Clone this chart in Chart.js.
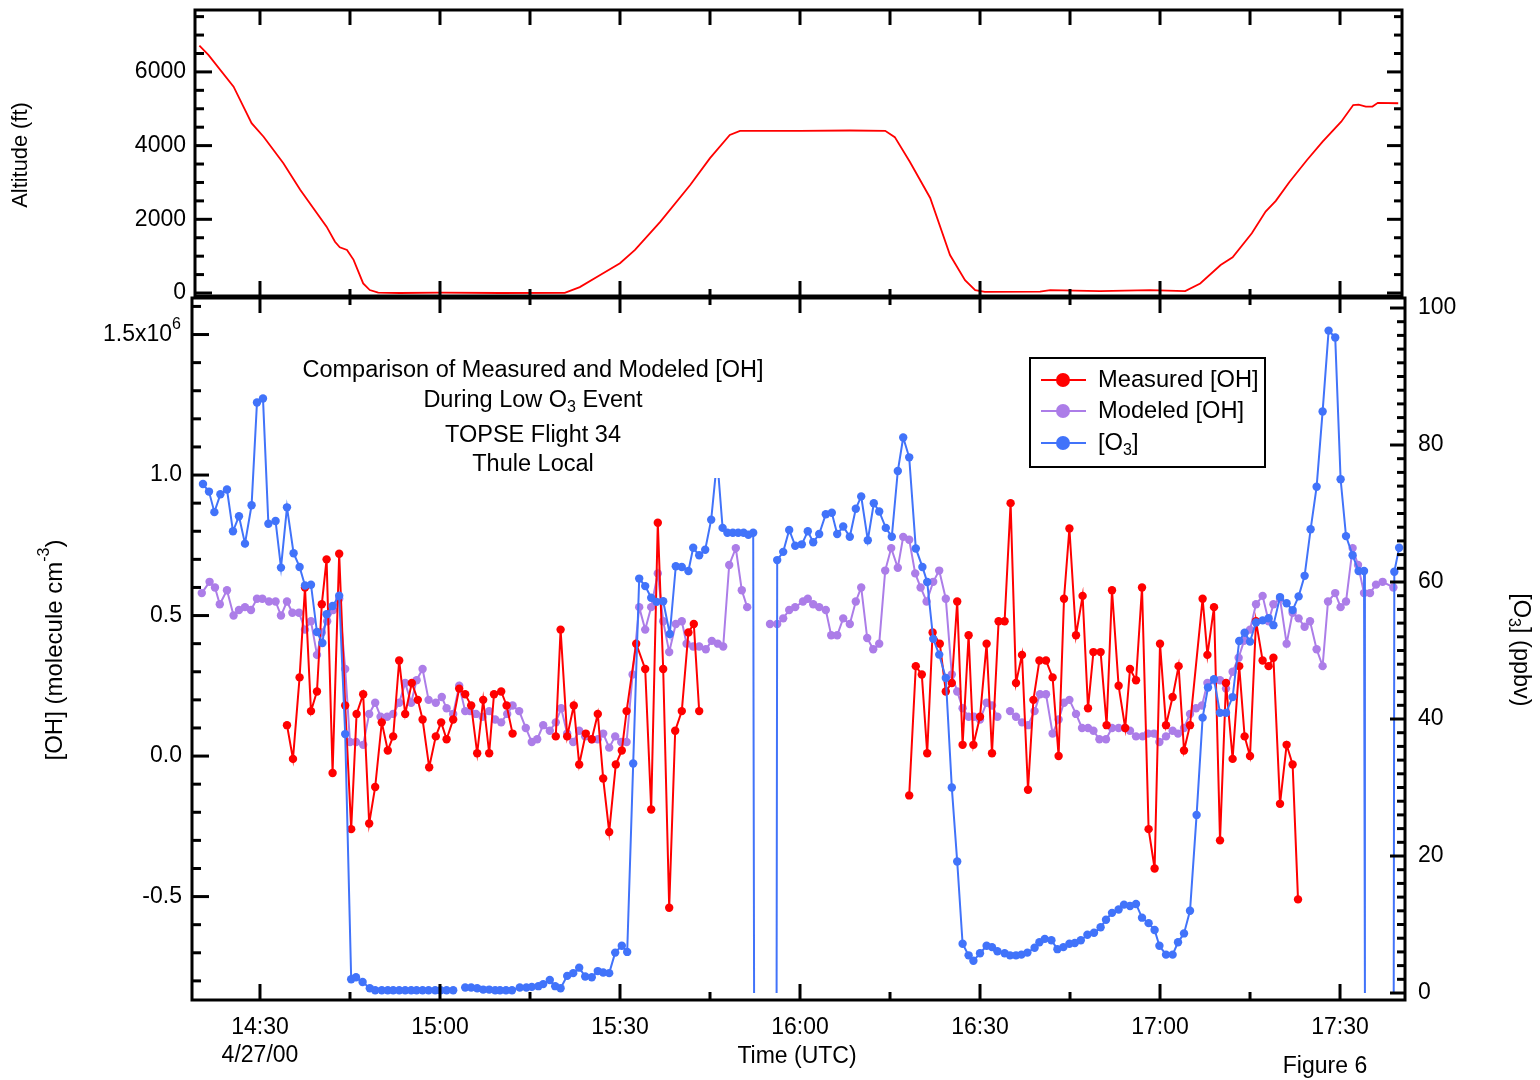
<!DOCTYPE html>
<html>
<head>
<meta charset="utf-8">
<title>TOPSE Flight 34 - measured and modeled OH</title>
<script src="https://cdn.jsdelivr.net/npm/chart.js@4.4.1/dist/chart.umd.min.js"></script>
<style>
  html, body { margin: 0; padding: 0; background: #fff; }
  #wrap { position: relative; width: 1540px; height: 1080px; }
  #wrap canvas { position: absolute; left: 0; top: 0; }
</style>
</head>
<body>
<div id="wrap">
  <canvas id="ohChart" width="1540" height="1080"></canvas>
  <canvas id="altChart" width="1540" height="300"></canvas>
</div>
<script>
// times are minutes after 00:00 UTC, 4/27/00
const timeLabels = [870, 900, 930, 960, 990, 1020, 1050];

// aircraft altitude (ft)
const altTime = [859.9, 861.4, 865.6, 868.6, 870.6, 873.9, 876.7, 881.1, 882.5, 883.3,
  884.5, 885.6, 887.2, 888.3, 889.7, 893.3, 900.0, 910.0, 920.8, 923.3,
  926.7, 930.0, 932.5, 936.7, 941.7, 945.0, 948.3, 950.0, 960.0, 968.3,
  974.2, 975.8, 978.3, 981.7, 985.0, 987.5, 989.2, 990.8, 1000.0, 1001.7,
  1010.0, 1018.3, 1024.2, 1026.7, 1030.1, 1032.1, 1035.3, 1037.6, 1039.3, 1041.6,
  1044.5, 1047.1, 1050.2, 1052.2, 1053.1, 1054.3, 1055.4, 1056.3, 1059.7];
const altFt = [6710, 6460, 5600, 4610, 4240, 3520, 2800, 1800, 1390, 1240,
  1170, 900, 260, 80, 10, 0, 10, 0, 5, 160,
  490, 810, 1170, 1930, 2930, 3660, 4290, 4400, 4400, 4410,
  4400, 4230, 3560, 2580, 1030, 350, 80, 30, 40, 80,
  50, 80, 50, 260, 760, 970, 1620, 2210, 2500, 3020,
  3610, 4110, 4650, 5100, 5110, 5060, 5060, 5160, 5150];

// measured [OH], 10^6 molecule cm-3 (null = no data)
const ohMeasTime = [874.5, 875.5, 876.6, 877.5, 878.5, 879.5, 880.3, 881.1, 882.1, 883.2,
  884.2, 885.2, 886.1, 887.2, 888.2, 889.2, 890.3, 891.3, 892.2, 893.2,
  894.2, 895.3, 896.3, 897.1, 898.2, 899.3, 900.2, 901.1, 902.2, 903.2,
  904.2, 905.2, 906.2, 907.2, 908.2, 909.0, 910.2, 911.1, 912.1, 916.0,
  919.3, 920.1, 921.2, 922.3, 923.2, 924.3, 925.3, 926.3, 927.2, 928.2,
  929.3, 930.3, 931.1, 932.7, 934.2, 935.2, 936.3, 937.2, 938.2, 939.2,
  940.3, 941.4, 942.3, 943.2, 960.0,
  978.2, 979.3, 980.3, 981.2, 982.1, 983.3, 984.3, 985.3, 986.2, 987.1,
  988.1, 988.9, 990.0, 991.1, 992.0, 993.1, 994.1, 995.1, 996.0, 997.0,
  998.0, 998.9, 999.9, 1001.0, 1002.1, 1003.1, 1004.0, 1004.9, 1006.0, 1007.1,
  1008.0, 1008.9, 1010.1, 1011.1, 1012.0, 1013.1, 1014.2, 1015.0, 1016.0, 1017.0,
  1018.1, 1019.1, 1020.0, 1021.0, 1022.1, 1023.1, 1024.0, 1025.0, 1027.1, 1027.9,
  1029.0, 1030.0, 1031.0, 1032.1, 1033.2, 1034.1, 1035.0, 1036.0, 1037.1, 1038.1,
  1038.9, 1040.0, 1041.1, 1042.1, 1043.0];
const ohMeas = [0.11, -0.01, 0.28, 0.60, 0.16, 0.23, 0.54, 0.70, -0.06, 0.72,
  0.18, -0.26, 0.15, 0.22, -0.24, -0.11, 0.12, 0.02, 0.07, 0.34,
  0.15, 0.26, 0.20, 0.13, -0.04, 0.07, 0.12, 0.06, 0.13, 0.24,
  0.22, 0.18, 0.01, 0.20, 0.01, 0.22, 0.23, 0.18, 0.08, null,
  0.07, 0.45, 0.07, 0.18, -0.03, 0.08, 0.06, 0.15, -0.08, -0.27,
  -0.03, 0.02, 0.16, 0.40, 0.31, -0.19, 0.83, 0.31, -0.54, 0.09,
  0.16, 0.44, 0.47, 0.16, null,
  -0.14, 0.32, 0.29, 0.01, 0.44, 0.40, 0.23, 0.26, 0.55, 0.04,
  0.43, 0.04, 0.14, 0.40, 0.01, 0.48, 0.48, 0.90, 0.26, 0.36,
  -0.12, 0.20, 0.34, 0.34, 0.28, 0.00, 0.56, 0.81, 0.43, 0.57,
  0.17, 0.37, 0.37, 0.11, 0.59, 0.25, 0.10, 0.31, 0.27, 0.60,
  -0.26, -0.40, 0.40, 0.11, 0.21, 0.32, 0.02, 0.11, 0.56, 0.36,
  0.53, -0.30, 0.26, -0.01, 0.32, 0.07, 0.00, 0.48, 0.34, 0.32,
  0.35, -0.17, 0.04, -0.03, -0.51];

// modeled [OH], 10^6 molecule cm-3
const ohModTime = [860.3, 861.6, 862.5, 863.3, 864.5, 865.6, 866.5, 867.5, 868.5, 869.5,
  870.4, 871.5, 872.6, 873.5, 874.5, 875.4, 876.5, 877.5, 878.5, 879.5,
  880.3, 881.2, 882.2, 883.2, 884.2, 885.0, 886.0, 887.2, 888.2, 889.2,
  890.1, 891.2, 892.2, 893.2, 894.2, 895.2, 896.1, 897.1, 898.1, 899.3,
  900.3, 901.1, 902.2, 903.2, 904.2, 905.0, 906.0, 907.1, 908.2, 909.2,
  910.2, 911.2, 912.1, 913.2, 914.3, 915.3, 916.2, 917.2, 918.3, 919.3,
  920.2, 921.2, 922.2, 923.2, 924.2, 925.3, 926.3, 927.2, 928.2, 929.2,
  930.2, 931.1, 932.1, 933.2, 934.2, 935.2, 936.3, 937.2, 938.2, 939.3,
  940.3, 941.1, 942.2, 943.2, 944.3, 945.3, 946.3, 947.2, 948.2, 949.3,
  950.3, 951.2, 953.0, 955.0, 956.2, 957.2, 958.2, 959.2, 960.5, 961.3,
  962.2, 963.2, 964.3, 965.2, 966.2, 967.2, 968.3, 969.3, 970.2, 971.2,
  972.2, 973.2, 974.2, 975.2, 976.3, 977.2, 978.2, 979.2, 980.1, 981.1,
  982.2, 983.2, 984.3, 985.3, 986.2, 987.1, 988.1, 989.0, 990.0, 991.1,
  992.0, 992.9, 994.0, 995.0, 996.0, 997.0, 998.0, 999.1, 1000.0, 1001.0,
  1002.1, 1003.1, 1004.0, 1004.9, 1006.0, 1007.0, 1008.0, 1008.9, 1009.9, 1011.0,
  1012.0, 1013.1, 1014.1, 1015.0, 1016.0, 1017.1, 1018.0, 1019.0, 1019.9, 1021.0,
  1022.1, 1023.0, 1024.0, 1025.0, 1026.0, 1027.0, 1027.9, 1029.0, 1030.0, 1031.0,
  1032.1, 1033.1, 1034.0, 1035.0, 1036.0, 1037.1, 1038.1, 1038.9, 1040.0, 1041.1,
  1042.1, 1043.1, 1044.1, 1045.0, 1046.1, 1047.1, 1048.0, 1049.2, 1050.1, 1051.0,
  1052.1, 1053.0, 1054.0, 1055.0, 1056.0, 1057.1, 1058.9];
const ohMod = [0.58, 0.62, 0.60, 0.54, 0.59, 0.50, 0.52, 0.53, 0.52, 0.56,
  0.56, 0.55, 0.55, 0.50, 0.55, 0.51, 0.51, 0.45, 0.48, 0.36,
  0.44, 0.48, 0.52, 0.56, 0.31, 0.05, 0.05, 0.04, 0.15, 0.19,
  0.14, 0.14, 0.15, 0.19, 0.26, 0.19, 0.27, 0.31, 0.20, 0.19,
  0.21, 0.17, 0.15, 0.25, 0.16, 0.16, 0.15, 0.14, 0.16, 0.13,
  0.12, 0.15, 0.18, 0.16, 0.10, 0.05, 0.06, 0.11, 0.09, 0.12,
  0.17, 0.08, 0.05, 0.09, 0.07, 0.06, 0.06, 0.08, 0.03, 0.07,
  0.05, 0.05, 0.29, 0.53, 0.45, 0.53, 0.65, 0.48, 0.37, 0.47,
  0.48, 0.40, 0.39, 0.39, 0.38, 0.41, 0.40, 0.39, 0.68, 0.74,
  0.59, 0.53, null, 0.47, 0.47, 0.49, 0.52, 0.53, 0.55, 0.56,
  0.54, 0.53, 0.52, 0.43, 0.43, 0.49, 0.47, 0.55, 0.60, 0.42,
  0.38, 0.40, 0.66, 0.74, 0.67, 0.78, 0.77, 0.65, 0.60, 0.55,
  0.62, 0.66, 0.56, 0.29, 0.23, 0.17, 0.14, 0.14, 0.13, 0.19,
  0.18, 0.14, null, 0.16, 0.14, 0.12, 0.11, 0.16, 0.22, 0.22,
  0.08, 0.13, 0.19, 0.20, 0.15, 0.10, 0.10, 0.09, 0.06, 0.06,
  0.10, 0.10, 0.10, 0.09, 0.07, 0.07, 0.08, 0.08, 0.05, 0.07,
  0.09, 0.08, 0.10, 0.15, 0.17, 0.18, 0.26, 0.27, 0.27, 0.24,
  0.30, 0.35, 0.41, 0.45, 0.54, 0.57, 0.48, 0.54, 0.56, 0.40,
  0.51, 0.49, 0.46, 0.48, 0.38, 0.32, 0.55, 0.58, 0.53, 0.55,
  0.74, 0.68, 0.58, 0.58, 0.61, 0.62, 0.60];

// [O3], ppbv (0 = instrument drop-out, drawn without a marker)
const o3Time = [860.5, 861.5, 862.4, 863.4, 864.5, 865.5, 866.5, 867.5, 868.6, 869.5,
  870.5, 871.4, 872.6, 873.5, 874.5, 875.6, 876.6, 877.5, 878.5, 879.5,
  880.4, 881.1, 882.1, 883.2, 884.2, 885.2, 886.0, 887.1, 888.3, 889.2,
  890.3, 891.3, 892.2, 893.2, 894.2, 895.2, 896.1, 897.1, 898.1, 899.2,
  900.1, 901.1, 902.2, 903.0, 904.2, 905.2, 906.2, 907.2, 908.2, 909.2,
  910.0, 911.0, 912.0, 913.3, 914.4, 915.3, 916.4, 917.2, 918.3, 919.2,
  920.1, 921.2, 922.2, 923.2, 924.2, 925.3, 926.3, 927.2, 928.2, 929.2,
  930.3, 931.2, 932.2, 933.2, 934.2, 935.2, 936.1, 937.2, 938.3, 939.3,
  940.3, 941.4, 942.2, 943.2, 944.2, 945.2, 946.2, 947.1, 947.9, 948.8,
  949.7, 950.6, 951.4, 952.2, 952.35, 954.0, 956.1, 956.2, 957.2, 958.2,
  959.2, 960.3, 961.3, 962.2, 963.2, 964.3, 965.3, 966.2, 967.2, 968.3,
  969.3, 970.2, 971.3, 972.3, 973.2, 974.3, 975.3, 976.3, 977.2, 978.2,
  979.3, 980.4, 981.2, 982.2, 983.2, 984.3, 985.3, 986.2, 987.1, 988.1,
  988.9, 990.0, 991.1, 992.0, 992.9, 994.1, 995.0, 996.0, 996.9, 997.9,
  999.1, 999.9, 1000.8, 1001.9, 1002.9, 1003.9, 1004.9, 1005.8, 1006.8, 1007.9,
  1009.0, 1010.1, 1011.0, 1012.0, 1013.1, 1014.0, 1015.0, 1016.0, 1017.0, 1018.1,
  1019.1, 1019.9, 1021.0, 1022.1, 1023.0, 1024.0, 1025.0, 1026.1, 1027.1, 1028.0,
  1029.0, 1030.0, 1031.0, 1032.1, 1033.2, 1034.1, 1035.0, 1036.0, 1037.1, 1038.1,
  1038.9, 1040.0, 1041.1, 1042.1, 1043.1, 1044.1, 1045.1, 1046.1, 1047.1, 1048.1,
  1049.2, 1050.1, 1051.0, 1052.1, 1053.1, 1054.0, 1054.15, 1056.0, 1058.95, 1059.05,
  1059.85];
const o3Ppbv = [74.3, 73.2, 70.2, 72.8, 73.5, 67.4, 69.6, 65.6, 71.2, 86.2,
  86.8, 68.5, 68.9, 62.1, 70.9, 64.2, 62.2, 59.5, 59.6, 52.7,
  51.1, 55.3, 56.5, 58.0, 37.8, 2.0, 2.3, 1.6, 0.7, 0.4,
  0.4, 0.4, 0.4, 0.4, 0.4, 0.4, 0.4, 0.4, 0.4, 0.4,
  0.4, 0.4, 0.4, null, 0.8, 0.8, 0.7, 0.5, 0.5, 0.4,
  0.4, 0.4, 0.4, 0.8, 0.8, 0.9, 1.0, 1.3, 1.9, 1.0,
  0.7, 2.5, 2.9, 3.7, 2.4, 2.3, 3.2, 3.0, 2.9, 5.9,
  6.9, 6.0, 33.5, 60.5, 59.4, 57.7, 57.1, 57.2, 52.4, 62.3,
  62.2, 61.6, 65.0, 63.9, 64.7, 69.1, 78.0, 67.9, 67.2, 67.2,
  67.2, 67.2, 66.9, 67.2, 0, null, 0, 63.2, 64.4, 67.6,
  65.3, 65.5, 67.4, 65.8, 67.0, 69.9, 70.1, 67.0, 68.1, 66.6,
  70.7, 72.5, 66.1, 71.5, 70.3, 67.9, 66.6, 76.2, 81.1, 78.2,
  64.9, 62.2, 60.0, 51.7, 49.4, 46.0, 30.0, 19.2, 7.2, 5.5,
  4.7, 5.8, 6.9, 6.7, 6.1, 5.8, 5.5, 5.5, 5.6, 5.9,
  6.6, 7.4, 7.9, 7.7, 6.4, 6.7, 7.2, 7.3, 7.7, 8.5,
  8.8, 9.6, 10.7, 11.7, 12.2, 12.9, 12.7, 13.0, 11.0, 10.2,
  9.2, 6.9, 5.6, 5.6, 7.4, 8.7, 12.0, 26.0, 40.2, 44.6,
  45.8, 40.9, 40.9, 43.2, 51.4, 52.6, 51.3, 54.1, 54.4, 54.7,
  53.7, 57.8, 56.9, 55.9, 57.9, 60.9, 67.7, 73.9, 84.9, 96.7,
  95.7, 75.0, 66.7, 63.9, 61.6, 61.6, 0, null, 0, 61.5,
  65.0];

const RED = '#ff0000';
const PURPLE = '#ac7de8';
const BLUE = '#4173fa';
const SANS = '"Liberation Sans", Arial, Helvetica, sans-serif';
const MARKER = 4.2;

Chart.defaults.font.family = SANS;
Chart.defaults.font.size = 23;
Chart.defaults.color = '#000';

function toPoints(xs, ys) {
  return xs.map((x, i) => ({ x: x, y: ys[i] }));
}

function clockLabel(min) {
  const h = Math.floor(min / 60);
  const m = Math.round(min - h * 60);
  return h + ':' + String(m).padStart(2, '0');
}

// text with sub/superscript pieces: parts = [[text, ''|'sub'|'sup'], ...]
function fontFor(size, kind) {
  return (kind ? Math.round(size * 0.68) : size) + 'px ' + SANS;
}

function drawRich(ctx, parts, x, y, size, align, angle) {
  ctx.save();
  ctx.translate(x, y);
  if (angle) ctx.rotate(angle);
  ctx.fillStyle = '#000';
  ctx.textBaseline = 'middle';
  ctx.textAlign = 'left';
  let w = 0;
  parts.forEach(([t, k]) => { ctx.font = fontFor(size, k); w += ctx.measureText(t).width; });
  let cx = align === 'center' ? -w / 2 : align === 'right' ? -w : 0;
  parts.forEach(([t, k]) => {
    ctx.font = fontFor(size, k);
    const dy = k === 'sub' ? size * 0.3 : k === 'sup' ? -size * 0.42 : 0;
    ctx.fillText(t, cx, dy);
    cx += ctx.measureText(t).width;
  });
  ctx.restore();
}

// closed frame around the plot area with inward major/minor ticks
function frameWithTicks(marks) {
  return {
    id: 'frameWithTicks',
    afterDraw(chart) {
      const { ctx, chartArea: a } = chart;
      ctx.save();
      ctx.strokeStyle = '#000';
      ctx.lineWidth = 3;
      marks.forEach(m => {
        const sc = chart.scales[m.scale];
        const lo = Math.ceil(sc.min / m.step - 1e-6);
        const hi = Math.floor(sc.max / m.step + 1e-6);
        for (let i = lo; i <= hi; i++) {
          const v = i * m.step;
          const r = v / m.major;
          const len = Math.abs(r - Math.round(r)) < 1e-6 ? m.long : m.short;
          const p = sc.getPixelForValue(v);
          ctx.beginPath();
          if (m.side === 'top') { ctx.moveTo(p, a.top); ctx.lineTo(p, a.top + len); }
          if (m.side === 'bottom') { ctx.moveTo(p, a.bottom); ctx.lineTo(p, a.bottom - len); }
          if (m.side === 'left') { ctx.moveTo(a.left, p); ctx.lineTo(a.left + len, p); }
          if (m.side === 'right') { ctx.moveTo(a.right, p); ctx.lineTo(a.right - len, p); }
          ctx.stroke();
        }
      });
      ctx.strokeRect(a.left, a.top, a.right - a.left, a.bottom - a.top);
      ctx.restore();
    }
  };
}

// annotation box, legend and axis titles of the OH panel
const ohAnnotations = {
  id: 'ohAnnotations',
  afterDatasetsDraw(chart) {
    const ctx = chart.ctx;
    // opaque text box
    ctx.save();
    ctx.fillStyle = '#fff';
    ctx.fillRect(296, 352, 474, 126);
    ctx.restore();
    drawRich(ctx, [['Comparison of Measured and Modeled [OH]', '']], 533, 371, 23.5, 'center');
    drawRich(ctx, [['During Low O', ''], ['3', 'sub'], [' Event', '']], 533, 401, 23.5, 'center');
    drawRich(ctx, [['TOPSE Flight 34', '']], 533, 436, 23.5, 'center');
    drawRich(ctx, [['Thule Local', '']], 533, 465, 23.5, 'center');

    // legend
    ctx.save();
    ctx.fillStyle = '#fff';
    ctx.fillRect(1030, 358, 235, 109);
    ctx.strokeStyle = '#000';
    ctx.lineWidth = 2;
    ctx.strokeRect(1030, 358, 235, 109);
    ctx.restore();
    const rows = [
      [[['Measured [OH]', '']], 1, 380],
      [[['Modeled [OH]', '']], 2, 411],
      [[['[O', ''], ['3', 'sub'], [']', '']], 0, 443]
    ];
    rows.forEach(([parts, di, y]) => {
      const c = chart.data.datasets[di].borderColor;
      ctx.save();
      ctx.strokeStyle = c;
      ctx.fillStyle = c;
      ctx.lineWidth = 2;
      ctx.beginPath();
      ctx.moveTo(1041, y);
      ctx.lineTo(1086, y);
      ctx.stroke();
      ctx.beginPath();
      ctx.arc(1063, y, 7, 0, Math.PI * 2);
      ctx.fill();
      ctx.restore();
      drawRich(ctx, parts, 1098, y, 23.7, 'left');
    });
  },
  afterDraw(chart) {
    const ctx = chart.ctx;
    const yOH = chart.scales.y;
    drawRich(ctx, [['1.5x10', ''], ['6', 'sup']], 181, yOH.getPixelForValue(1.5), 23, 'right');
    drawRich(ctx, [['[OH] (molecule cm', ''], ['-3', 'sup'], [')', '']], 55, 650, 24, 'center', -Math.PI / 2);
    drawRich(ctx, [['[O', ''], ['3', 'sub'], ['] (ppbv)', '']], 1520, 650, 23.5, 'center', Math.PI / 2);
    drawRich(ctx, [['Time (UTC)', '']], 797, 1057, 23, 'center');
    drawRich(ctx, [['Figure 6', '']], 1325, 1067, 23, 'center');
  }
};

const altAnnotations = {
  id: 'altAnnotations',
  afterDraw(chart) {
    drawRich(chart.ctx, [['Altitude (ft)', '']], 21, 155, 21.8, 'center', -Math.PI / 2);
  }
};

const noGrid = { display: false, drawTicks: false };

// lower panel: [OH] on the left axis, [O3] on the right axis
new Chart(document.getElementById('ohChart'), {
  type: 'line',
  data: {
    datasets: [
      {
        label: '[O3]',
        data: toPoints(o3Time, o3Ppbv),
        yAxisID: 'yO3',
        borderColor: BLUE,
        backgroundColor: BLUE,
        pointBackgroundColor: BLUE,
        borderWidth: 2,
        pointBorderWidth: 0,
        pointRadius: ctx => (ctx.raw && ctx.raw.y === 0 ? 0 : MARKER),
        spanGaps: false,
        order: 1
      },
      {
        label: 'Measured [OH]',
        data: toPoints(ohMeasTime, ohMeas),
        yAxisID: 'y',
        borderColor: RED,
        backgroundColor: RED,
        pointBackgroundColor: RED,
        borderWidth: 2,
        pointBorderWidth: 0,
        pointRadius: MARKER,
        spanGaps: false,
        order: 2
      },
      {
        label: 'Modeled [OH]',
        data: toPoints(ohModTime, ohMod),
        yAxisID: 'y',
        borderColor: PURPLE,
        backgroundColor: PURPLE,
        pointBackgroundColor: PURPLE,
        borderWidth: 2,
        pointBorderWidth: 0,
        pointRadius: MARKER,
        spanGaps: false,
        order: 3
      }
    ]
  },
  options: {
    responsive: false,
    animation: false,
    events: [],
    layout: { padding: { top: 298, left: 0, right: 0, bottom: 0 } },
    plugins: { legend: { display: false }, tooltip: { enabled: false } },
    scales: {
      x: {
        type: 'linear',
        min: 858.67,
        max: 1060.83,
        grid: noGrid,
        border: { display: false },
        afterBuildTicks: s => { s.ticks = timeLabels.map(v => ({ value: v })); },
        afterFit: s => { s.height = 80; s.paddingLeft = 0; s.paddingRight = 0; },
        ticks: {
          padding: 13,
          maxRotation: 0,
          autoSkip: false,
          font: { size: 23, lineHeight: 1.25 },
          callback: v => (v === 870 ? [clockLabel(v), '4/27/00'] : clockLabel(v))
        }
      },
      y: {
        type: 'linear',
        position: 'left',
        min: -0.868,
        max: 1.63,
        grid: noGrid,
        border: { display: false },
        afterBuildTicks: s => { s.ticks = [-0.5, 0, 0.5, 1.0, 1.5].map(v => ({ value: v })); },
        afterFit: s => { s.width = 192; s.paddingTop = 0; s.paddingBottom = 0; },
        ticks: {
          padding: 10,
          callback: v => (v === 1.5 ? '' : v.toFixed(1))
        }
      },
      yO3: {
        type: 'linear',
        position: 'right',
        min: -1.02,
        max: 101.46,
        grid: noGrid,
        border: { display: false },
        afterBuildTicks: s => { s.ticks = [0, 20, 40, 60, 80, 100].map(v => ({ value: v })); },
        afterFit: s => { s.width = 135; s.paddingTop = 0; s.paddingBottom = 0; },
        ticks: { padding: 13, callback: v => String(v) }
      }
    }
  },
  plugins: [
    ohAnnotations,
    frameWithTicks([
      { scale: 'x', side: 'top', step: 15, major: 30, long: 15, short: 7 },
      { scale: 'x', side: 'bottom', step: 15, major: 30, long: 16, short: 8 },
      { scale: 'y', side: 'left', step: 0.1, major: 0.5, long: 17, short: 9 },
      { scale: 'yO3', side: 'right', step: 2, major: 20, long: 15, short: 8 }
    ])
  ]
});

// upper panel: altitude
new Chart(document.getElementById('altChart'), {
  type: 'line',
  data: {
    datasets: [{
      label: 'Altitude',
      data: toPoints(altTime, altFt),
      borderColor: RED,
      borderWidth: 1.8,
      pointRadius: 0
    }]
  },
  options: {
    responsive: false,
    animation: false,
    events: [],
    layout: { padding: { top: 10, left: 0, right: 138, bottom: 0 } },
    plugins: { legend: { display: false }, tooltip: { enabled: false } },
    scales: {
      x: {
        type: 'linear',
        min: 859.17,
        max: 1060.33,
        grid: noGrid,
        border: { display: false },
        ticks: { display: false },
        afterFit: s => { s.height = 4; s.paddingLeft = 0; s.paddingRight = 0; }
      },
      y: {
        type: 'linear',
        min: -81,
        max: 7680,
        grid: noGrid,
        border: { display: false },
        afterBuildTicks: s => { s.ticks = [0, 2000, 4000, 6000].map(v => ({ value: v })); },
        afterFit: s => { s.width = 195; s.paddingTop = 0; s.paddingBottom = 0; },
        ticks: { padding: 9, callback: v => String(v) }
      }
    }
  },
  plugins: [
    altAnnotations,
    frameWithTicks([
      { scale: 'x', side: 'top', step: 15, major: 15, long: 15, short: 15 },
      { scale: 'x', side: 'bottom', step: 15, major: 30, long: 15, short: 7 },
      { scale: 'y', side: 'left', step: 500, major: 2000, long: 17, short: 9 },
      { scale: 'y', side: 'right', step: 500, major: 2000, long: 15, short: 8 }
    ])
  ]
});
</script>
</body>
</html>
